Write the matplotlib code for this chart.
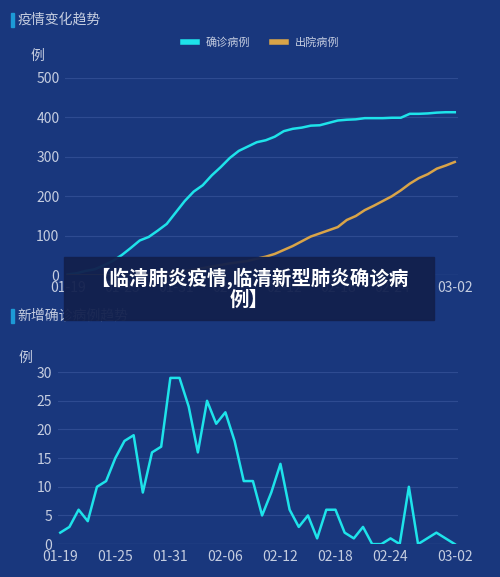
import matplotlib
matplotlib.use("Agg")
import matplotlib.pyplot as plt
import numpy as np

plt.rcParams['font.family'] = ['Noto Sans CJK SC', 'DejaVu Sans']

dates = ["01-19","01-20","01-21","01-22","01-23","01-24","01-25","01-26","01-27","01-28","01-29","01-30","01-31",
         "02-01","02-02","02-03","02-04","02-05","02-06","02-07","02-08","02-09","02-10","02-11","02-12","02-13","02-14",
         "02-15","02-16","02-17","02-18","02-19","02-20","02-21","02-22","02-23","02-24","02-25","02-26","02-27","02-28",
         "02-29","03-01","03-02"]
new_cases = [2,3,6,4,10,11,15,18,19,9,16,17,29,29,24,16,25,21,23,18,11,11,5,9,14,6,3,5,1,6,6,2,1,3,0,0,1,0,10,0,1,2,1,0]
confirmed = [2,5,11,15,25,36,51,69,88,97,113,130,159,188,212,228,253,274,297,315,326,337,342,351,365,371,374,379,380,
             386,392,394,395,398,398,398,399,399,409,409,410,412,413,413]
discharged = [0,0,0,0,0,0,0,0,0,1,2,4,6,10,14,18,22,26,30,33,36,42,47,54,64,74,86,98,106,114,122,140,150,165,
              176,188,200,215,232,246,256,270,278,287]
tick_idx = [0,6,12,18,24,30,36,43]

bg = '#19377d'
txt = '#c5cde0'
grid = '#2e4b91'
fig = plt.figure(figsize=(5, 5.77), dpi=100, facecolor=bg)
x = np.arange(len(dates))

def style(ax, ymax, step):
    ax.set_facecolor(bg)
    for s in ax.spines.values():
        s.set_visible(False)
    ax.set_ylim(0, ymax)
    ax.set_yticks(np.arange(0, ymax + 1, step))
    ax.yaxis.grid(True, color=grid, lw=0.8)
    ax.set_axisbelow(True)
    ax.axhline(0, color='#5a73b0', lw=0.8)
    ax.set_xlim(-0.3, len(dates) - 0.7)
    ax.set_xticks(tick_idx)
    ax.set_xticklabels([dates[i] for i in tick_idx])
    ax.tick_params(colors=txt, labelsize=10, length=0, pad=4)

ax1 = fig.add_axes([0.13, 0.523, 0.785, 0.342])
style(ax1, 500, 100)
ax1.plot(x, confirmed, color='#1ee3ea', lw=1.8, label='确诊病例')
ax1.plot(x, discharged, color='#d9a448', lw=1.8, label='出院病例')
ax1.text(-0.07, 1.09, '例', transform=ax1.transAxes, color=txt, fontsize=10, ha='center')
leg = ax1.legend(loc='lower center', bbox_to_anchor=(0.5, 1.1), ncol=2, frameon=False,
                 fontsize=8, handlelength=1.2, labelcolor=txt)
for l in leg.get_lines():
    l.set_linewidth(4)

ax2 = fig.add_axes([0.115, 0.057, 0.8, 0.298])
style(ax2, 30, 5)
ax2.plot(x, new_cases, color='#1ee3ea', lw=1.8)
ax2.text(-0.08, 1.06, '例', transform=ax2.transAxes, color=txt, fontsize=10, ha='center')

fig.patches.append(plt.Rectangle((0.021, 0.953), 0.006, 0.025, transform=fig.transFigure, color='#1d9ad6'))
fig.text(0.035, 0.966, '疫情变化趋势', color=txt, fontsize=10, va='center')
fig.patches.append(plt.Rectangle((0.021, 0.44), 0.006, 0.025, transform=fig.transFigure, color='#1d9ad6'))
fig.text(0.035, 0.453, '新增确诊病例趋势', color=txt, fontsize=10, va='center')

fig.patches.append(plt.Rectangle((0.128, 0.445), 0.74, 0.11, transform=fig.transFigure,
                                 color='#12204d', alpha=0.95, zorder=10))
fig.text(0.498, 0.5, '【临清肺炎疫情,临清新型肺炎确诊病\n例】', color='white', fontsize=14,
         fontweight='heavy', ha='center', va='center', linespacing=1.1, zorder=11)

fig.savefig('out.png', dpi=100, facecolor=bg)
